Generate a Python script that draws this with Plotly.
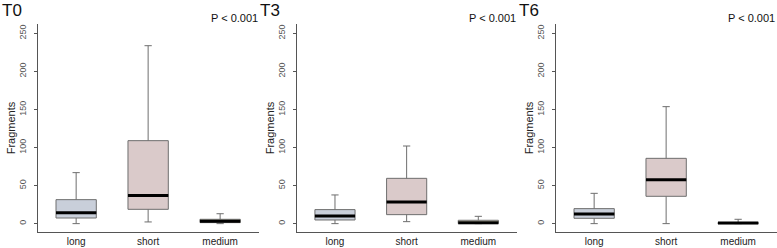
import plotly.graph_objects as go

panels = ["T0", "T3", "T6"]
categories = ["long", "short", "medium"]
p_text = "P < 0.001"

# per panel: values for long, short, medium
lowerfence = {"T0": [0, 2.2, 0], "T3": [0, 2.6, 0], "T6": [0, 0, 0]}
q1 = {"T0": [7.4, 18.8, 1.3], "T3": [4.8, 11.8, 0], "T6": [7.0, 35.9, 0]}
median = {"T0": [14.4, 36.8, 3.0], "T3": [10.0, 28.5, 1.3], "T6": [12.7, 57.8, 0.9]}
q3 = {"T0": [31.5, 109, 5.7], "T3": [18.4, 59.5, 4.4], "T6": [19.7, 85.8, 1.3]}
upperfence = {"T0": [67, 233.8, 13], "T3": [37.7, 102, 9.6], "T6": [39.8, 153.7, 5.7]}

fills = ["#c9cfda", "#dacaca", "#e2ddc3"]
y_ticks = [0, 50, 100, 150, 200, 250]

W, H = 777, 248
x_domains = [(38 / W, 259 / W), (297 / W, 517 / W), (556 / W, 1.0)]
y_domain = (1 - 232 / H, 1 - 24 / H)
box_w = 0.56
FONT = "Liberation Sans, Arial"

fig = go.Figure()
for pi, pname in enumerate(panels):
    xa = "x" if pi == 0 else f"x{pi+1}"
    ya = "y" if pi == 0 else f"y{pi+1}"
    for ci, cat in enumerate(categories):
        fig.add_trace(go.Box(
            x=[ci], q1=[q1[pname][ci]], median=[median[pname][ci]], q3=[q3[pname][ci]],
            lowerfence=[lowerfence[pname][ci]], upperfence=[upperfence[pname][ci]],
            width=box_w, whiskerwidth=0.18, fillcolor=fills[ci],
            line=dict(color="#6e6e6e", width=1), boxpoints=False,
            xaxis=xa, yaxis=ya, showlegend=False, hoverinfo="skip"))
        fig.add_trace(go.Scatter(
            x=[ci - box_w / 2, ci + box_w / 2], y=[median[pname][ci]] * 2,
            mode="lines", line=dict(color="black", width=3),
            xaxis=xa, yaxis=ya, showlegend=False, hoverinfo="skip"))

    xkey = "xaxis" if pi == 0 else f"xaxis{pi+1}"
    ykey = "yaxis" if pi == 0 else f"yaxis{pi+1}"
    fig.layout[xkey] = dict(
        domain=list(x_domains[pi]), range=[-0.53, 2.54], anchor=ya,
        tickmode="array", tickvals=[0, 1, 2], ticktext=categories,
        showline=True, linecolor="#555555", linewidth=1, showgrid=False,
        zeroline=False, ticks="", automargin=False,
        tickfont=dict(family=FONT, size=10, color="#222222"))
    fig.layout[ykey] = dict(
        domain=list(y_domain), range=[-11.0, 262.3], anchor=xa,
        tickmode="array", tickvals=y_ticks, ticktext=[str(t) for t in y_ticks],
        tickangle=-90, ticks="outside", ticklen=3, tickcolor="#555555",
        ticklabelstandoff=4,
        showline=True, linecolor="#555555", linewidth=1, showgrid=False, zeroline=False,
        automargin=False,
        tickfont=dict(family=FONT, size=9, color="#555555"),
        title=dict(text="Fragments", font=dict(family=FONT, size=11, color="#222222"), standoff=0))

    x0 = [0, 258, 517][pi]
    fig.add_annotation(text=pname, xref="paper", yref="paper", x=x0 / W, y=1 + 1 / H,
                       xanchor="left", yanchor="top", showarrow=False,
                       font=dict(family=FONT, size=17, color="#111111"))
    fig.add_annotation(text=p_text, xref="paper", yref="paper", x=(x0 + 260) / W, y=1 - 10 / H,
                       xanchor="right", yanchor="top", showarrow=False,
                       font=dict(family=FONT, size=11, color="#111111"))

fig.update_layout(width=W, height=H, margin=dict(l=0, r=0, t=0, b=0),
                  paper_bgcolor="white", plot_bgcolor="white")
fig.write_html("out.html", config={"displayModeBar": False},
               post_script="document.body.style.margin='0';document.body.style.padding='0';")
